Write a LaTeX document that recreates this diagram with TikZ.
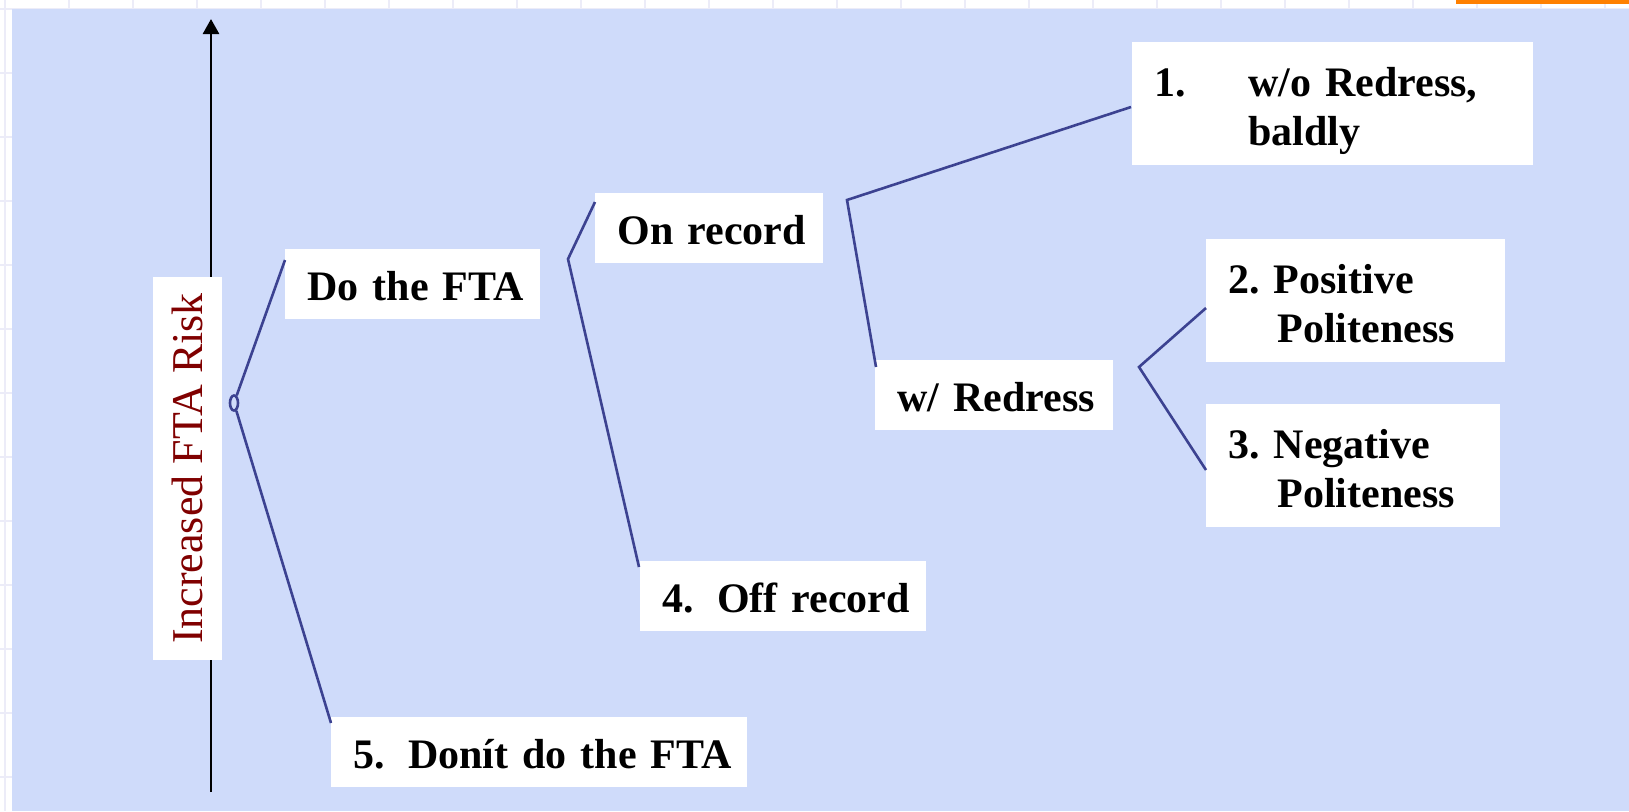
\documentclass[tikz,border=0pt]{standalone}
\usepackage{fontspec}
\setmainfont{Liberation Serif}
\usepackage{tikz}
\usetikzlibrary{positioning, arrows.meta, shapes.geometric, calc}
\usepackage{xcolor}

\definecolor{panelblue}{RGB}{207,219,250}
\definecolor{branchblue}{RGB}{60,66,145}
\definecolor{riskred}{RGB}{128,0,0}
\definecolor{gridgray}{RGB}{236,236,248}
\definecolor{barorange}{RGB}{255,128,0}

\begin{document}
\begin{tikzpicture}[x=0.5pt, y=-0.5pt]
        % Definitions
        \def\pad{11pt}
        \def\boxfont{\bfseries\fontsize{21}{24.5}\selectfont}
        \def\riskfont{\fontsize{22}{26}\selectfont}

        % Styles
        \tikzstyle{branch} = [draw=branchblue, line width=1.3pt]
        \tikzstyle{riskaxis} = [draw=black, line width=1.3pt, -{Triangle[length=7.5pt, width=8pt]}]
        \tikzstyle{textbox} = [fill=white, inner xsep=\pad, inner ysep=0pt, anchor=north west, align=left, font=\boxfont, execute at begin node={\rule{0pt}{25.5pt}}, execute at end node={\rule[-9.5pt]{0pt}{0pt}}]
        \tikzstyle{twoline} = [textbox, execute at begin node={\rule{0pt}{27pt}}, execute at end node={\rule[-10pt]{0pt}{0pt}}]

        % Background
        \useasboundingbox (0,0) rectangle (1629,811);
        \foreach \x in {5,69,...,1629} \draw[gridgray, line width=0.6pt] (\x,0) -- (\x,811);
        \foreach \y in {9,73,...,811} \draw[gridgray, line width=0.6pt] (0,\y) -- (1629,\y);
        \fill[panelblue] (12,9) rectangle (1629,811);
        \fill[barorange] (1456,0) rectangle (1629,4);

        % Risk axis
        \coordinate (axisbot) at (211,792);
        \coordinate (axistop) at (211,19);
        \draw[riskaxis] (axisbot) -- (axistop);
        \node[fill=white, rotate=90, inner sep=0pt, minimum width=191.5pt, minimum height=34.5pt, text=riskred, font=\riskfont] (risk) at (187.5,468.5) {Increased FTA Risk};

        % Root
        \node[ellipse, draw=branchblue, fill=panelblue, line width=1.3pt, inner sep=0pt, minimum width=4pt, minimum height=7.5pt] (root) at (234,403) {};

        % Boxes
        \node[textbox, text width=105.5pt] (do) at (285,249) {Do~the~FTA};
        \node[textbox, text width=92pt] (onrec) at (595,193) {On~record};
        \node[twoline, text width=178.5pt] (baldly) at (1132,42) {\makebox[47pt][l]{1.}w/o~Redress,\\\hspace*{47pt}baldly};
        \node[twoline, text width=127.5pt] (pos) at (1206,239) {2.~Positive\\\hspace*{24.5pt}Politeness};
        \node[textbox, text width=97pt] (wred) at (875,360) {w/~Redress};
        \node[twoline, text width=125pt] (neg) at (1206,404) {3.~Negative\\\hspace*{24.5pt}Politeness};
        \node[textbox, text width=121pt] (offrec) at (640,561) {\mbox{4.\hspace{0.55em}Off~record}};
        \node[textbox, text width=186pt] (dont) at (331,717) {\mbox{5.\hspace{0.55em}Donít~do~the~FTA}};

        % Forks
        \coordinate (forka) at (568,259);
        \coordinate (forkb) at (847,200);
        \coordinate (forkc) at (1139,367);

        % Branches
        \draw[branch] (root) -- ($(do.north west)+(0,11)$);
        \draw[branch] (root) -- ($(dont.north west)+(0,6)$);
        \draw[branch] ($(onrec.north west)+(0,9)$) -- (forka) -- ($(offrec.north west)+(-1,6)$);
        \draw[branch] ($(baldly.north west)+(-1,65)$) -- (forkb) -- ($(wred.north west)+(1,7)$);
        \draw[branch] ($(pos.north west)+(0,69)$) -- (forkc) -- ($(neg.north west)+(0,66)$);

\end{tikzpicture}
\end{document}
